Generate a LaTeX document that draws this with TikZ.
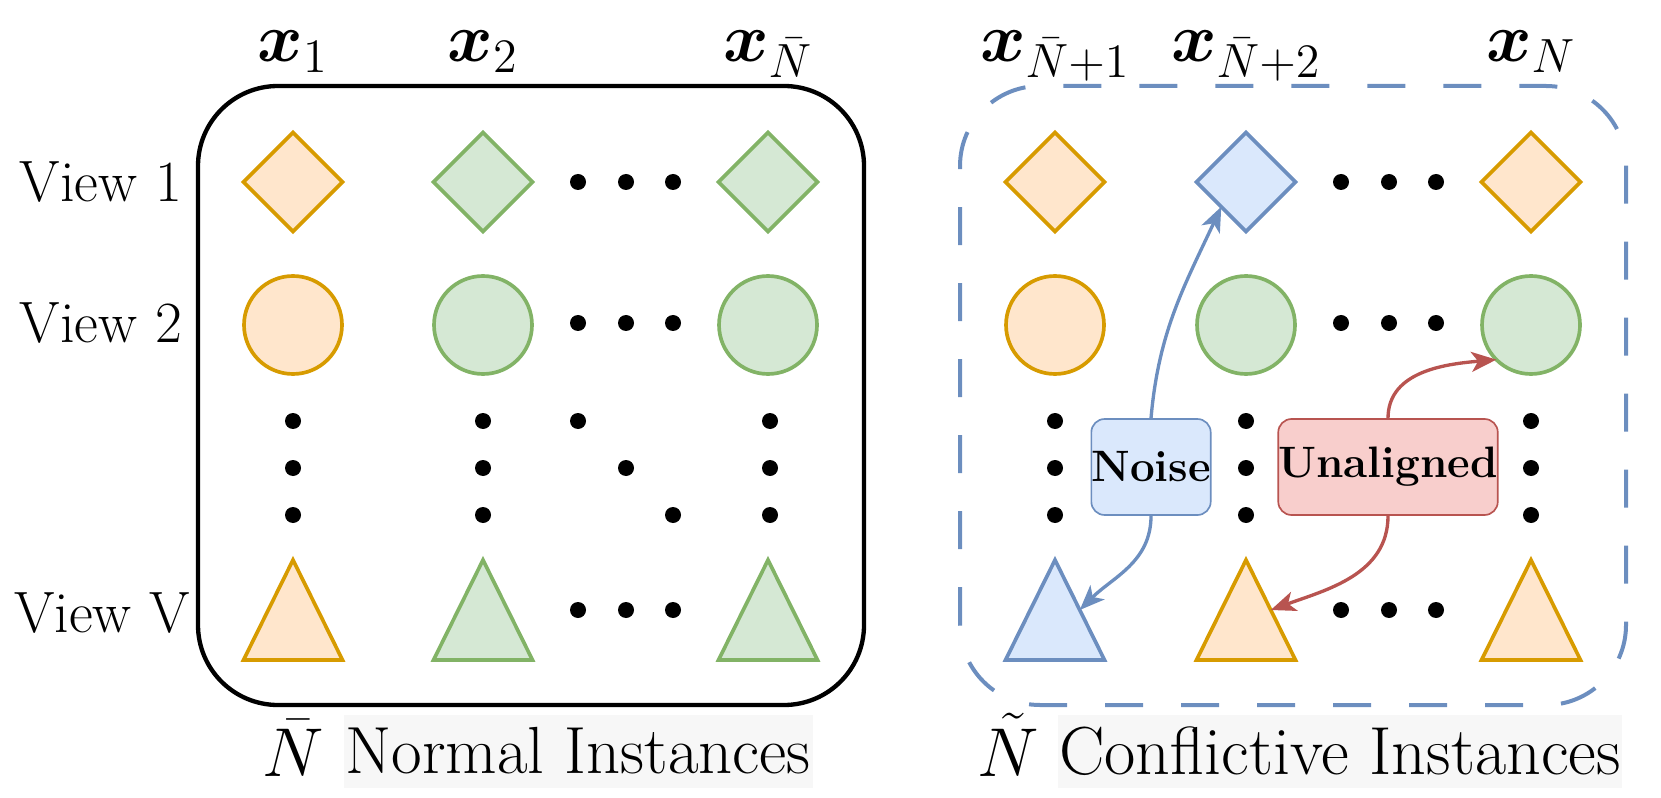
\documentclass[tikz,border=0pt]{standalone}
\usepackage{bm}
\usetikzlibrary{shapes.geometric,arrows.meta}

\definecolor{orngline}{HTML}{D79B00}
\definecolor{orngfill}{HTML}{FFE6CC}
\definecolor{grnline}{HTML}{82B366}
\definecolor{grnfill}{HTML}{D5E8D4}
\definecolor{bluline}{HTML}{6C8EBF}
\definecolor{blufill}{HTML}{DAE8FC}
\definecolor{redline}{HTML}{B85450}
\definecolor{redfill}{HTML}{F8CECC}

\tikzset{
  shp/.style={draw, line width=1.1pt, inner sep=0pt, outer sep=0pt},
  dia/.style={shp, diamond, minimum width=29.7pt, minimum height=29.7pt},
  circ/.style={shp, circle, minimum size=29.4pt},
  tri/.style={shp, isosceles triangle, isosceles triangle stretches,
    shape border rotate=90, minimum width=29.7pt, minimum height=30pt,
    anchor=lower side},
  orng/.style={draw=orngline, fill=orngfill},
  grn/.style={draw=grnline, fill=grnfill},
  blu/.style={draw=bluline, fill=blufill},
  collbl/.style={anchor=base, inner sep=0pt, font=\fontsize{22}{24}\selectfont},
  viewlbl/.style={inner sep=0pt, font=\fontsize{17.5}{20}\selectfont},
  tag/.style={rounded corners=4pt, line width=0.5pt, inner sep=0pt,
    minimum height=28.8pt, font=\fontsize{13.2}{16}\selectfont\bfseries},
  caption/.style={fill=black!3, inner sep=0pt, minimum height=21.9pt},
  capsym/.style={anchor=base, inner sep=0pt, font=\fontsize{19.8}{22}\selectfont},
  arr/.style={line width=1pt, -{Stealth[length=7.5pt,width=6pt,inset=2pt]}}
}

\begin{document}
\begin{tikzpicture}[x=0.3pt,y=0.3pt]
  \useasboundingbox (0,0) rectangle (1661,797);

  % frames
  \draw[line width=1.3pt, rounded corners=24pt] (198,92) rectangle (864,711);
  \draw[bluline, line width=1.2pt, rounded corners=24pt,
    dash pattern=on 11.4pt off 11.4pt] (960,92) rectangle (1626,711);

  % column labels
  \path
    (293,735) node[collbl] (l1) {$\bm{x}_1$}
    (483,735) node[collbl] (l2) {$\bm{x}_2$}
    (768,735) node[collbl] (l3) {$\bm{x}_{\bar{N}}$}
    (1055,735) node[collbl] (l4) {$\bm{x}_{\bar{N}+1}$}
    (1246,735) node[collbl] (l5) {$\bm{x}_{\bar{N}+2}$}
    (1531,735) node[collbl] (l6) {$\bm{x}_{N}$};

  % view labels
  \path
    (101,615) node[viewlbl] (v1) {View 1}
    (101,474) node[viewlbl] (v2) {View 2}
    (102,184) node[viewlbl] (vv) {View V};

  % view 1
  \path
    (293,615) node[dia,orng] (d1) {}
    (483,615) node[dia,grn] (d2) {}
    (768,615) node[dia,grn] (d3) {}
    (1055,615) node[dia,orng] (d4) {}
    (1246,615) node[dia,blu] (d5) {}
    (1531,615) node[dia,orng] (d6) {};

  % view 2
  \path
    (293,472) node[circ,orng] (c1) {}
    (483,472) node[circ,grn] (c2) {}
    (768,472) node[circ,grn] (c3) {}
    (1055,472) node[circ,orng] (c4) {}
    (1246,472) node[circ,grn] (c5) {}
    (1531,472) node[circ,grn] (c6) {};

  % view V
  \path
    (293,137) node[tri,orng] (t1) {}
    (483,137) node[tri,grn] (t2) {}
    (768,137) node[tri,grn] (t3) {}
    (1055,137) node[tri,blu] (t4) {}
    (1246,137) node[tri,orng] (t5) {}
    (1531,137) node[tri,orng] (t6) {};

  % ellipses
  \foreach \x in {293,483,770,1055,1246,1531}
    \foreach \y in {376,329,282}
      \fill (\x,\y) circle (2.4pt);
  \foreach \x in {578,626,673,1341,1389,1436}
    \foreach \y in {615,474,187}
      \fill (\x,\y) circle (2.4pt);
  \fill (578,376) circle (2.4pt) (626,329) circle (2.4pt) (673,282) circle (2.4pt);

  % conflicts
  \node[tag, draw=bluline, fill=blufill, minimum width=35.7pt] (noise) at (1151,330) {Noise};
  \node[tag, draw=redline, fill=redfill, minimum width=64.5pt] (unal) at (1388,330) {Unaligned};

  \begin{scope}[arr]
    \draw[bluline] (noise.north) to[out=85,in=245] (d5.south west);
    \draw[bluline] (noise.south) to[out=-90,in=45] (t4.right side);
    \draw[redline] (unal.north) to[out=90,in=185] (c6.south west);
    \draw[redline] (unal.south) to[out=-90,in=20] (t5.right side);
  \end{scope}

  % captions
  \node[capsym] (nbar) at (293,21) {$\bar{N}$};
  \node[caption, minimum width=140.7pt, font=\fontsize{20}{22}\selectfont]
    (normal) at (578,46) {Normal Instances};
  \node[capsym] (ntil) at (1008,21) {$\tilde{N}$};
  \node[caption, minimum width=169.2pt, font=\fontsize{20.4}{23}\selectfont]
    (conf) at (1340,46) {Conflictive Instances};
\end{tikzpicture}
\end{document}
